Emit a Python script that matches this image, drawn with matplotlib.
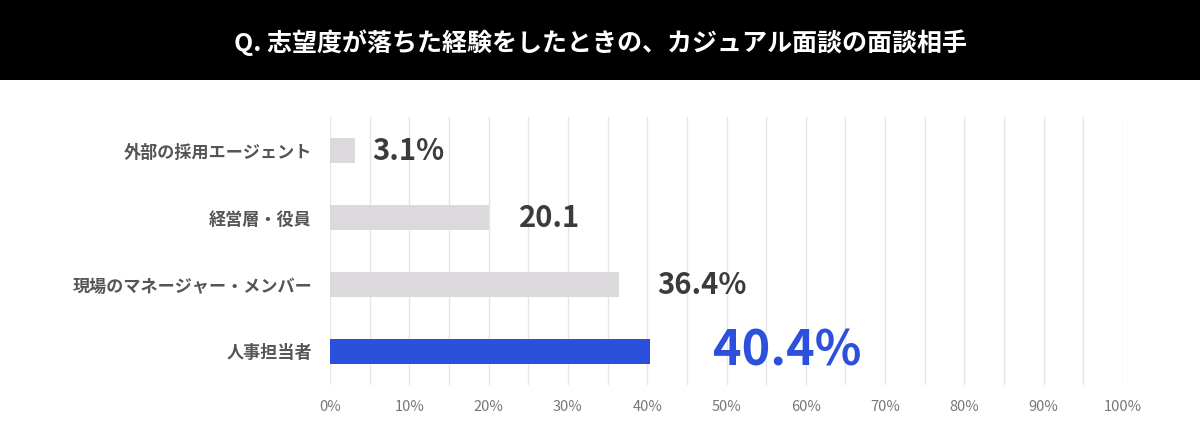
import matplotlib
matplotlib.use('Agg')
import matplotlib.pyplot as plt
from matplotlib.patches import Rectangle

plt.rcParams['font.family'] = ['Noto Sans CJK JP', 'DejaVu Sans']

# data
categories = ['外部の採用エージェント', '経営層・役員', '現場のマネージャー・メンバー', '人事担当者']
values = [3.1, 20.1, 36.4, 40.4]
value_labels = ['3.1%', '20.1', '36.4%', '40.4%']
title = 'Q. 志望度が落ちた経験をしたときの、カジュアル面談の面談相手'

grey = '#dbd9dc'
blue = '#2c50dc'
bar_colors = [grey, grey, grey, blue]
label_colors = ['#3b3b3b', '#3b3b3b', '#3b3b3b', blue]
label_sizes = [21, 21, 21, 35]
label_offsets = [13, 21, 28, 45]   # gap after bar end, in points

fig = plt.figure(figsize=(12, 4.24), dpi=100)
fig.patches.append(Rectangle((0, 1 - 80 / 424), 1, 80 / 424, transform=fig.transFigure,
                             facecolor='black', edgecolor='none', zorder=0))
fig.text(0.5, 1 - 43 / 424, title, color='white', fontsize=18, fontweight='bold',
         ha='center', va='center')

ax = fig.add_axes([330 / 1200, 1 - 385 / 424, 793 / 1200, 268 / 424])
y = list(range(len(categories)))
ax.barh(y, values, height=0.36, color=bar_colors, zorder=2)
ax.set_ylim(3.5, -0.5)
ax.set_xlim(0, 100)

for i in y:
    ax.annotate(value_labels[i], (values[i], i), xytext=(label_offsets[i], 0),
                textcoords='offset points', va='center', ha='left',
                fontsize=label_sizes[i], fontweight='bold', color=label_colors[i])

ax.set_xticks(range(0, 101, 10))
ax.set_xticklabels([f'{v}%' for v in range(0, 101, 10)], fontsize=10.5, color='#777777')
ax.set_xticks(range(5, 100, 10), minor=True)
ax.grid(axis='x', which='both', color='#e6e6e6', linewidth=1, zorder=0)
ax.tick_params(axis='x', which='both', length=0, pad=11)
ax.set_yticks(y)
ax.set_yticklabels(categories, fontsize=12.3, fontweight='bold', color='#555555')
ax.tick_params(axis='y', length=0, pad=13)
for s in ax.spines.values():
    s.set_visible(False)

fig.savefig('out.png', dpi=100)
